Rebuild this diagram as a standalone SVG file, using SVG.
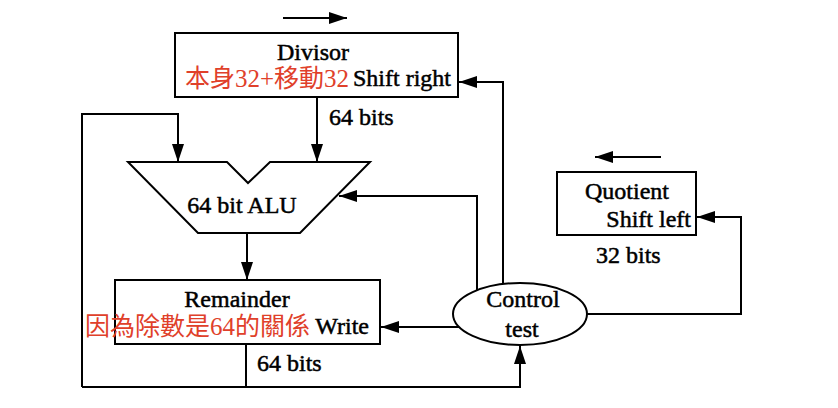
<svg xmlns="http://www.w3.org/2000/svg" width="838" height="408" viewBox="0 0 838 408">
<defs>
<marker id="ah" markerUnits="userSpaceOnUse" markerWidth="18" markerHeight="12" refX="18" refY="6" orient="auto">
<path d="M0,0 L18,6 L0,12 z" fill="#000"/>
</marker>
<style>
.box{fill:#fff;stroke:#000;stroke-width:2}
.ln{fill:none;stroke:#000;stroke-width:2}
.t{font-family:"Liberation Serif","Times New Roman",serif;font-size:24px;fill:#000;stroke:#000;stroke-width:0.5}
.r{font-family:"Liberation Serif","Noto Sans CJK TC",serif;font-size:25px;fill:#e0402a}
</style>
</defs>
<rect width="838" height="408" fill="#fff"/>
<g id="connectors">
<path class="ln" d="M283,18 H347" marker-end="url(#ah)"/>
<path class="ln" d="M661,157 H595" marker-end="url(#ah)"/>
<path class="ln" d="M317,97 V162" marker-end="url(#ah)"/>
<path class="ln" d="M82,387 V114 H178 V162" marker-end="url(#ah)"/>
<path class="ln" d="M247,233 V280" marker-end="url(#ah)"/>
<path class="ln" d="M246,344 V387"/>
<path class="ln" d="M82,387 H520 V346" marker-end="url(#ah)"/>
<path class="ln" d="M477,290 V196 H339" marker-end="url(#ah)"/>
<path class="ln" d="M503,284 V82 H459" marker-end="url(#ah)"/>
<path class="ln" d="M459,327 H381" marker-end="url(#ah)"/>
<path class="ln" d="M587,314 H741 V217 H697" marker-end="url(#ah)"/>
</g>
<g id="divisor">
<rect class="box" x="175" y="33" width="283" height="64"/>
<text class="t" x="313" y="60" text-anchor="middle">Divisor</text>
<text class="t" x="451" y="86" text-anchor="end">Shift right</text>
<text class="r" x="185" y="87">本身32+移動32</text>
</g>
<text class="t" x="329" y="125">64 bits</text>
<g id="alu">
<path class="box" d="M128,162 H227 L248,183 L270,162 H370 L300,233 H198 Z"/>
<text class="t" x="242" y="213" text-anchor="middle">64 bit ALU</text>
</g>
<g id="remainder">
<rect class="box" x="115" y="280" width="265" height="64"/>
<text class="t" x="237" y="307" text-anchor="middle">Remainder</text>
<text class="t" x="369" y="334" text-anchor="end">Write</text>
<text class="r" x="85" y="335">因為除數是64的關係</text>
</g>
<text class="t" x="257" y="371">64 bits</text>
<g id="control">
<ellipse class="box" cx="520" cy="314" rx="67" ry="31"/>
<text class="t" x="523" y="307" text-anchor="middle">Control</text>
<text class="t" x="522" y="337" text-anchor="middle">test</text>
</g>
<g id="quotient">
<rect class="box" x="557" y="172" width="139" height="63"/>
<text class="t" x="585" y="199">Quotient</text>
<text class="t" x="691" y="227" text-anchor="end">Shift left</text>
</g>
<text class="t" x="596" y="263">32 bits</text>
</svg>
